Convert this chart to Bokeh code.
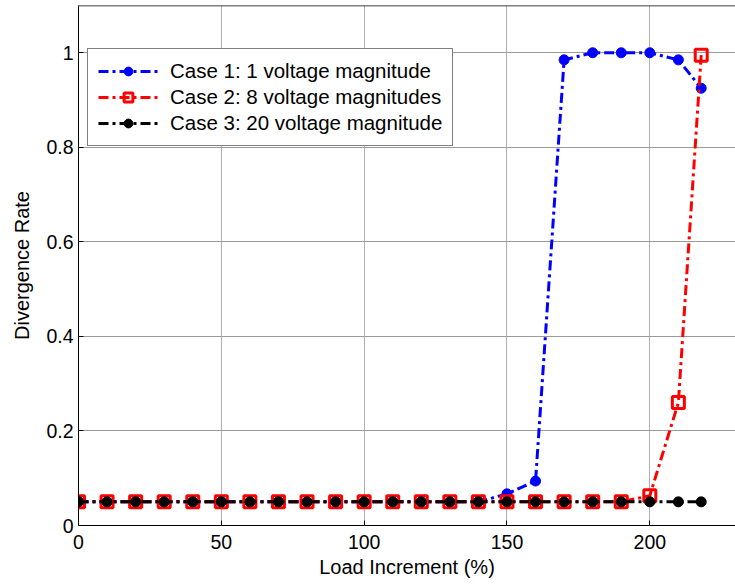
from bokeh.plotting import figure
from bokeh.models import Range1d, FixedTicker, Legend, LegendItem, Span
from bokeh.embed import file_html
from bokeh.resources import INLINE

# ---- data ----
load_increment = [0, 10, 20, 30, 40, 50, 60, 70, 80, 90, 100, 110, 120,
                  130, 140, 150, 160, 170, 180, 190, 200, 210, 218]
case1 = [0.05, 0.05, 0.05, 0.05, 0.05, 0.05, 0.05, 0.05, 0.05, 0.05, 0.05, 0.05, 0.05,
         0.05, 0.05, 0.067, 0.094, 0.985, 1.0, 1.0, 1.0, 0.985, 0.925]
case2 = [0.05, 0.05, 0.05, 0.05, 0.05, 0.05, 0.05, 0.05, 0.05, 0.05, 0.05, 0.05, 0.05,
         0.05, 0.05, 0.05, 0.05, 0.05, 0.05, 0.05, 0.063, 0.26, 0.995]
case3 = [0.05, 0.05, 0.05, 0.05, 0.05, 0.05, 0.05, 0.05, 0.05, 0.05, 0.05, 0.05, 0.05,
         0.05, 0.05, 0.05, 0.05, 0.05, 0.05, 0.05, 0.05, 0.05, 0.05]
labels = ["Case 1: 1 voltage magnitude",
          "Case 2: 8 voltage magnitudes",
          "Case 3: 20 voltage magnitude"]
x_ticks = [0, 50, 100, 150, 200]
y_ticks = [0, 0.2, 0.4, 0.6, 0.8, 1]
y_tick_labels = ["0", "0.2", "0.4", "0.6", "0.8", "1"]

FONT = "Liberation Sans"
DASH = "10 4 3 4"
Y_MAX = 1.1

p = figure(width=735, height=585, output_backend="svg", toolbar_location=None,
           x_range=Range1d(0, 230), y_range=Range1d(0, Y_MAX),
           min_border_left=78, min_border_right=0, min_border_top=5,
           min_border_bottom=60)
p.outline_line_color = None
p.background_fill_color = "white"
p.border_fill_color = "white"

# grid
p.xgrid.ticker = FixedTicker(ticks=x_ticks)
p.ygrid.ticker = FixedTicker(ticks=y_ticks)
p.xgrid.grid_line_color = "#b0b0b0"
p.ygrid.grid_line_color = "#9a9a9a"
p.grid.grid_line_width = 1

# axes
for ax in (p.xaxis[0], p.yaxis[0]):
    ax.major_tick_in = 5
    ax.major_tick_out = 0
    ax.minor_tick_in = 0
    ax.minor_tick_out = 0
    ax.axis_line_color = "black"
    ax.major_tick_line_color = "black"
    ax.major_label_text_font = FONT
    ax.major_label_text_font_size = "19.5px"
    ax.major_label_text_color = "black"
    ax.axis_label_text_font = FONT
    ax.axis_label_text_font_size = "20px"
    ax.axis_label_text_font_style = "normal"
    ax.axis_label_text_color = "black"

p.xaxis.ticker = FixedTicker(ticks=x_ticks)
p.yaxis.ticker = FixedTicker(ticks=y_ticks)
p.yaxis.major_label_overrides = {t: s for t, s in zip(y_ticks, y_tick_labels)}
p.xaxis.axis_label = "Load Increment (%)"
p.yaxis.axis_label = "Divergence Rate"
p.xaxis.major_label_standoff = 9
p.xaxis.axis_label_standoff = 4
p.yaxis.major_label_standoff = 5
p.yaxis.axis_label_standoff = 10

# top border of the box
p.add_layout(Span(location=Y_MAX, dimension="width", line_color="black", line_width=1.5))

# series
l1 = p.line(load_increment, case1, line_color="blue", line_width=3, line_dash=DASH)
s1 = p.scatter(load_increment, case1, marker="circle", size=10,
               fill_color="blue", line_color="blue")
l2 = p.line(load_increment, case2, line_color="red", line_width=3, line_dash=DASH)
s2 = p.scatter(load_increment, case2, marker="square", size=12,
               fill_color=None, line_color="red", line_width=3)
l3 = p.line(load_increment, case3, line_color="black", line_width=3, line_dash=DASH)
s3 = p.scatter(load_increment, case3, marker="circle", size=10,
               fill_color="black", line_color="black")

legend = Legend(items=[LegendItem(label=labels[0], renderers=[l1, s1]),
                       LegendItem(label=labels[1], renderers=[l2, s2]),
                       LegendItem(label=labels[2], renderers=[l3, s3])],
                location=(9, 379), orientation="vertical")
legend.label_text_font = FONT
legend.label_text_font_size = "20.5px"
legend.label_text_color = "black"
legend.glyph_width = 60
legend.glyph_height = 22
legend.label_height = 22
legend.label_standoff = 12
legend.spacing = 2
legend.padding = 10
legend.margin = 0
legend.border_line_color = "black"
legend.border_line_width = 1.5
legend.background_fill_alpha = 1
p.add_layout(legend, "center")

open("out.html", "w").write(file_html(p, INLINE))
